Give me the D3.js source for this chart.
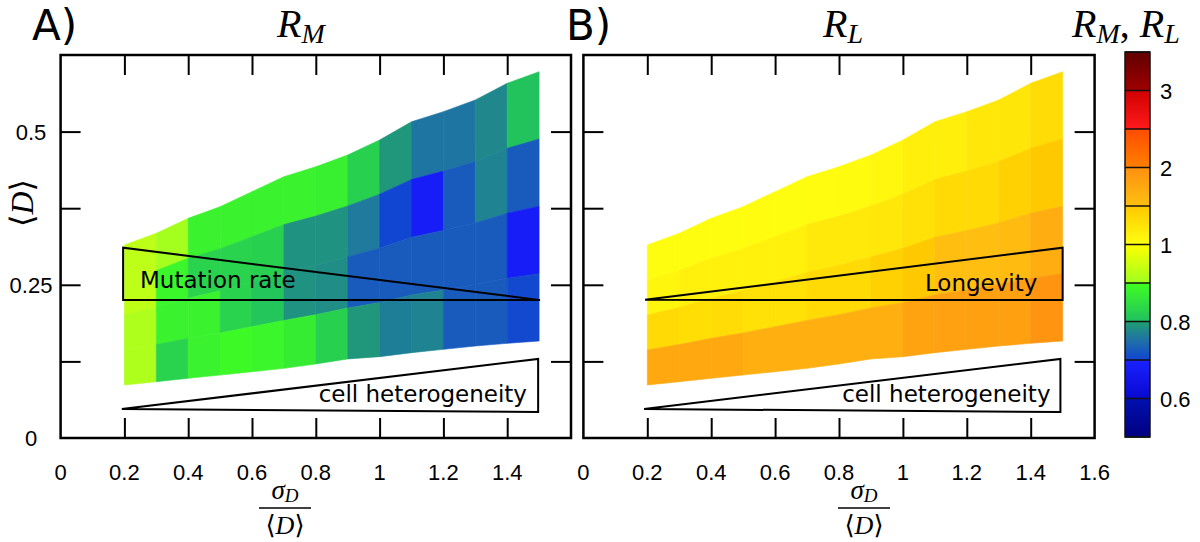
<!DOCTYPE html>
<html><head><meta charset="utf-8">
<script src="https://cdn.jsdelivr.net/npm/d3@7"></script>
<style>body{margin:0;background:#fff}svg{display:block}</style>
</head><body><svg id="chart" width="1200" height="542"></svg>
<script>
// ---- data ----
const colEdges   = [0.2,0.3,0.4,0.5,0.6,0.7,0.8,0.9,1.0,1.1,1.2,1.3,1.4,1.5];
const topEdge    = [0.315,0.334,0.3585,0.3775,0.402,0.4264,0.4427,0.4618,0.4863,0.516,0.5325,0.5516,0.5788,0.5977];
const bottomEdge = [0.0865,0.0919,0.0974,0.1028,0.1082,0.1137,0.1208,0.129,0.1327,0.1392,0.1447,0.1501,0.1545,0.1583];
const rowsPerColumn = 4;
// values per column, rows listed top -> bottom
const valuesRM = [
  [0.93,0.93,0.915,0.915],
  [0.905,0.885,0.88,0.83],
  [0.88,0.83,0.88,0.88],
  [0.88,0.83,0.83,0.89],
  [0.88,0.825,0.81,0.885],
  [0.88,0.785,0.785,0.87],
  [0.875,0.785,0.78,0.825],
  [0.825,0.76,0.725,0.79],
  [0.79,0.701,0.725,0.765],
  [0.755,0.68,0.725,0.77],
  [0.755,0.725,0.725,0.725],
  [0.775,0.77,0.725,0.725],
  [0.805,0.725,0.68,0.705]
];
const valuesRL = [
  [1.02,1.08,1.34,1.75],
  [1.02,1.13,1.30,1.75],
  [1.02,1.13,1.32,1.75],
  [1.03,1.13,1.28,1.67],
  [1.02,1.13,1.28,1.67],
  [1.03,1.20,1.34,1.67],
  [1.04,1.20,1.34,1.67],
  [1.06,1.21,1.42,1.67],
  [1.15,1.28,1.49,1.80],
  [1.15,1.34,1.52,1.82],
  [1.21,1.34,1.52,1.83],
  [1.23,1.42,1.55,1.83],
  [1.32,1.49,1.70,1.96]
];
const xTickValues = [0.2,0.4,0.6,0.8,1.0,1.2,1.4];
const xLabelsA = [0,0.2,0.4,0.6,0.8,1,1.2,1.4];
const xLabelsB = [0,0.2,0.4,0.6,0.8,1,1.2,1.4,1.6];
const yTickValues = [0.125,0.25,0.375,0.5];
const yLabels = [0,0.25,0.5];
const cbBreaks = [0.5,0.6,0.7,0.8,0.9,1,1.5,2,2.5,3,3.5];
// colours of each colour-bar segment, from its low end to its high end
const cbColors = [
  ["#000080","#0010b0"],
  ["#0808d0","#1a22ff"],
  ["#1045d2","#1f70a8","#20a070"],
  ["#20c060","#40ff20"],
  ["#a0ff20","#ffff00"],
  ["#ffff10","#ffc800"],
  ["#ffc010","#ff9010"],
  ["#ff8000","#ff4c00"],
  ["#ff1a1a","#d00000"],
  ["#a00000","#600000"]
];
const cbLabels = [0.6,0.8,1,2,3];

// ---- drawing ----
const svg = d3.select("#chart");
svg.append("rect").attr("width",1200).attr("height",542).attr("fill","#fff");

const y = d3.scaleLinear().domain([0,0.625]).range([438,55]);
const xA = d3.scaleLinear().domain([0,1.6]).range([60.6,571]);
const xB = d3.scaleLinear().domain([0,1.6]).range([583.4,1094.6]);

function colorOf(v){
  let k = d3.bisectRight(cbBreaks, v) - 1;
  k = Math.max(0, Math.min(cbColors.length-1, k));
  const t = (v - cbBreaks[k])/(cbBreaks[k+1]-cbBreaks[k]);
  return d3.piecewise(d3.interpolateRgb, cbColors[k])(Math.max(0,Math.min(1,t)));
}

const SANS = "'Liberation Sans', Arial, sans-serif";
const SERIF = "'Liberation Serif', 'DejaVu Serif', serif";
const DEJ = "'DejaVu Sans', sans-serif";

function drawPanel(x, values, opts){
  const g = svg.append("g");
  // heatmap mesh
  const edgeY = (j,f) => bottomEdge[j] + f*(topEdge[j]-bottomEdge[j]);
  for(let i=0;i<colEdges.length-1;i++){
    for(let r=0;r<rowsPerColumn;r++){
      const fT = 1 - r/rowsPerColumn, fB = 1 - (r+1)/rowsPerColumn;
      const pts = [
        [x(colEdges[i]), y(edgeY(i,fT))],
        [x(colEdges[i+1]), y(edgeY(i+1,fT))],
        [x(colEdges[i+1]), y(edgeY(i+1,fB))],
        [x(colEdges[i]), y(edgeY(i,fB))]
      ];
      const c = colorOf(values[i][r]);
      g.append("path").attr("d", d3.line()(pts)+"Z")
        .attr("fill", c).attr("stroke", c).attr("stroke-width",0.6);
    }
  }
  // ticks via axes (inward)
  const tick = (axis, tr) => {
    const a = g.append("g").attr("transform", tr).call(axis);
    a.select(".domain").remove();
    a.selectAll(".tick line").attr("stroke","#000").attr("stroke-width",2);
    a.selectAll("text").remove();
  };
  tick(d3.axisBottom(x).tickValues(xTickValues).tickSizeInner(-20).tickSizeOuter(0), `translate(0,${y(0)})`);
  tick(d3.axisTop(x).tickValues(xTickValues).tickSizeInner(-20).tickSizeOuter(0), `translate(0,${y(0.625)})`);
  tick(d3.axisLeft(y).tickValues(yTickValues).tickSizeInner(-20).tickSizeOuter(0), `translate(${x(0)},0)`);
  tick(d3.axisRight(y).tickValues(yTickValues).tickSizeInner(-20).tickSizeOuter(0), `translate(${x(1.6)},0)`);
  // frame
  g.append("rect").attr("x",x(0)).attr("y",y(0.625)).attr("width",x(1.6)-x(0)).attr("height",y(0)-y(0.625))
    .attr("fill","none").attr("stroke","#000").attr("stroke-width",2.5);
  // x labels
  g.selectAll(".xl").data(opts.xLabels).join("text")
    .attr("x", d=>x(d)).attr("y", 480).attr("text-anchor","middle")
    .attr("font-family",SANS).attr("font-size",22).text(d=>String(d));
  // x axis title: sigma_D / <D>
  const cx = opts.xTitleX;
  const t1 = g.append("text").attr("x",cx).attr("y",499).attr("text-anchor","middle").attr("font-family",SERIF).attr("font-size",27);
  t1.append("tspan").attr("font-style","italic").text("σ");
  t1.append("tspan").attr("font-style","italic").attr("font-size",19).attr("dy",3).text("D");
  g.append("line").attr("x1",cx-26).attr("x2",cx+26).attr("y1",508).attr("y2",508).attr("stroke","#000").attr("stroke-width",1.5);
  const t2 = g.append("text").attr("x",cx).attr("y",534).attr("text-anchor","middle").attr("font-family",SERIF).attr("font-size",26);
  t2.append("tspan").text("⟨");
  t2.append("tspan").attr("font-style","italic").text("D");
  t2.append("tspan").text("⟩");
  // panel letter & title
  g.append("text").attr("x",opts.letterX).attr("y",40)
    .attr("font-family",DEJ).attr("font-size",42).text(opts.letter);
  const tt = g.append("text").attr("x",opts.titleX).attr("y",37).attr("text-anchor","middle").attr("font-family",SERIF).attr("font-size",40);
  tt.append("tspan").attr("font-style","italic").text("R");
  tt.append("tspan").attr("font-style","italic").attr("font-size",28).attr("dy",6).text(opts.sub);
  return g;
}

const gA = drawPanel(xA, valuesRM, {xLabels:xLabelsA, xTitleX:285, letter:"A)", letterX:32, titleX:301, sub:"M"});
const gB = drawPanel(xB, valuesRL, {xLabels:xLabelsB, xTitleX:864, letter:"B)", letterX:566, titleX:843, sub:"L"});

// y labels (panel A only)
gA.selectAll(".yl").data(yLabels).join("text")
  .attr("x",31).attr("y",d=>y(d)+8).attr("text-anchor","middle")
  .attr("font-family",SANS).attr("font-size",22).text(d=>String(d));
const yt = svg.append("text").attr("transform","translate(33,203) rotate(-90)").attr("text-anchor","middle")
  .attr("font-family",SERIF).attr("font-size",32);
yt.append("tspan").text("⟨");
yt.append("tspan").attr("font-style","italic").text("D");
yt.append("tspan").text("⟩");

// annotations
function annotate(g, x, tri, tri2, label, lx, ly, anchor){
  g.append("path").attr("d", d3.line()(tri.map(p=>[x(p[0]),y(p[1])]))+"Z")
    .attr("fill","none").attr("stroke","#000").attr("stroke-width",2);
  g.append("path").attr("d", d3.line()(tri2.map(p=>[x(p[0]),y(p[1])]))+"Z")
    .attr("fill","none").attr("stroke","#000").attr("stroke-width",2);
  g.append("text").attr("x",x(lx)).attr("y",y(ly)).attr("text-anchor",anchor)
    .attr("font-family",DEJ).attr("font-size",23).text(label);
  g.append("text").attr("x",x(1.462)).attr("y",402).attr("text-anchor","end")
    .attr("font-family",DEJ).attr("font-size",23).text("cell heterogeneity");
}
annotate(gA, xA, [[0.196,0.3105],[0.196,0.225],[1.503,0.225]],
         [[0.192,0.0473],[1.497,0.129],[1.497,0.0424]], "Mutation rate", 0.249, 0.244, "start");
annotate(gB, xB, [[0.193,0.2255],[1.5,0.3105],[1.5,0.225]],
         [[0.19,0.0473],[1.493,0.129],[1.493,0.0424]], "Longevity", 1.421, 0.240, "end");

// colour bar
const cbX = 1125, cbW = 25;
const cbY = d3.scaleLinear().domain(cbBreaks).range(cbBreaks.map((d,i)=>437 - i*(437-52)/(cbBreaks.length-1)));
const defs = svg.append("defs");
const cb = svg.append("g");
cbColors.forEach((cols,k)=>{
  const id = "cbg"+k;
  const lg = defs.append("linearGradient").attr("id",id).attr("x1",0).attr("x2",0).attr("y1",1).attr("y2",0);
  cols.forEach((c,i)=>lg.append("stop").attr("offset", i/(cols.length-1)).attr("stop-color",c));
  cb.append("rect").attr("x",cbX).attr("width",cbW)
    .attr("y",cbY(cbBreaks[k+1])).attr("height",cbY(cbBreaks[k])-cbY(cbBreaks[k+1]))
    .attr("fill",`url(#${id})`);
});
cb.selectAll(".sep").data(cbBreaks).join("line")
  .attr("x1",cbX).attr("x2",cbX+cbW).attr("y1",d=>cbY(d)).attr("y2",d=>cbY(d))
  .attr("stroke","#111").attr("stroke-width",1.5);
cb.append("rect").attr("x",cbX).attr("y",cbY(3.5)).attr("width",cbW).attr("height",cbY(0.5)-cbY(3.5))
  .attr("fill","none").attr("stroke","#111").attr("stroke-width",1.5);
cb.selectAll(".cbl").data(cbLabels).join("text")
  .attr("x",cbX+cbW+10).attr("y",d=>cbY(d)+8)
  .attr("font-family",SANS).attr("font-size",22).text(d=>String(d));
const ct = svg.append("text").attr("x",1072).attr("y",37).attr("font-family",SERIF).attr("font-size",40);
ct.append("tspan").attr("font-style","italic").text("R");
ct.append("tspan").attr("font-style","italic").attr("font-size",28).attr("dy",6).text("M");
ct.append("tspan").attr("dy",-6).text(", ");
ct.append("tspan").attr("font-style","italic").text("R");
ct.append("tspan").attr("font-style","italic").attr("font-size",28).attr("dy",6).text("L");
</script></body></html>
